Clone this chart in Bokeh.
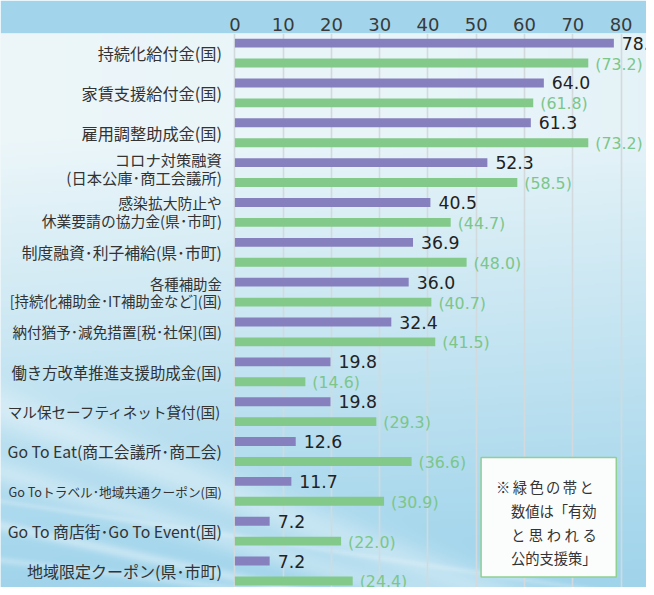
import numpy as np
from bokeh.plotting import figure
from bokeh.models import Range1d, FixedTicker, ColumnDataSource
from bokeh.core.properties import value, field
from bokeh.embed import file_html
from bokeh.resources import INLINE

# ---------------- data ----------------
categories = [
    "持続化給付金(国)",
    "家賃支援給付金(国)",
    "雇用調整助成金(国)",
    "コロナ対策融資\n(日本公庫･商工会議所)",
    "感染拡大防止や\n休業要請の協力金(県･市町)",
    "制度融資･利子補給(県･市町)",
    "各種補助金\n[持続化補助金･IT補助金など](国)",
    "納付猶予･減免措置[税･社保](国)",
    "働き方改革推進支援助成金(国)",
    "マル保セーフティネット貸付(国)",
    "Go To Eat(商工会議所･商工会)",
    "Go Toトラベル･地域共通クーポン(国)",
    "Go To 商店街･Go To Event(国)",
    "地域限定クーポン(県･市町)",
]
used_pct = [78.5, 64.0, 61.3, 52.3, 40.5, 36.9, 36.0, 32.4, 19.8, 19.8, 12.6, 11.7, 7.2, 7.2]
effective_pct = [73.2, 61.8, 73.2, 58.5, 44.7, 48.0, 40.7, 41.5, 14.6, 29.3, 36.6, 30.9, 22.0, 24.4]
x_ticks = [0, 10, 20, 30, 40, 50, 60, 70, 80]
note_lines = ["※\u2006緑\u2006色\u2006の\u2006帯\u2006と", "数値は「有効", "と\u2005思\u2005わ\u2005れ\u2005る", "公的支援策」"]

# ---------------- styles ----------------
label_sizes = ["16.2px", "16.2px", "16.2px", "15.3px", "14.8px", "15.8px", "14.4px",
               "14.6px", "15.4px", "14.6px", "15.8px", "12.7px", "15.8px", "16px"]
label_dy = [0, 0, 0, -5, -1, 0, 0, 0, 0, 0, 0, 0, 0, 0]
PURPLE = "#8680be"
GREEN = "#82c98a"
GREEN_TXT = "#7cc689"

W, H = 646, 587
TOP = 33
x0, x1 = -48.55, 85.26
y_top = -0.4914
y_bottom = 13.4136

rows = list(range(len(categories)))
y_used = [r - 0.25 for r in rows]
y_eff = [r + 0.25 for r in rows]

src = ColumnDataSource(dict(
    cat=categories, row=rows, fs=label_sizes, dy=label_dy,
    used=used_pct, eff=effective_pct,
    y_used=y_used, y_eff=y_eff,
    used_lbl=[f"{v:.1f}" for v in used_pct],
    eff_lbl=[f"({v:.1f})" for v in effective_pct],
))

p = figure(width=W, height=H, output_backend="svg", toolbar_location=None,
           x_range=Range1d(x0, x1), y_range=Range1d(y_bottom, y_top),
           x_axis_location="above", y_axis_location=None,
           min_border_left=0, min_border_right=0, min_border_bottom=0,
           min_border_top=TOP, outline_line_color=None)
p.border_fill_color = "#a2d5eb"
p.background_fill_color = "#e8f4f8"

# background gradient with soft diagonal streaks (decoration)
fh = H - TOP
gw, gh = 323, fh // 2
u = np.linspace(0, W, gw)[None, :]
v = np.linspace(0, fh, gh)[:, None]
X = u / 0.9878
Y = (TOP + v) / 0.9866
s = np.clip((Y - 30) / 460.0, 0, 1) ** 1.15 * 0.86 + np.clip(1 - X / 654.0, 0, 1) * 0.10 * np.clip(Y / 300.0, 0, 1)
s = np.clip(s, 0, 1)
dark = np.array([160, 212, 235], dtype=float)
light = np.array([240, 248, 250], dtype=float)
col = dark[None, None, :] * (1 - s[..., None]) + light[None, None, :] * s[..., None]
for c, k, w, a in [(95, 0.22, 6, 0.35), (150, 0.30, 14, 0.30), (215, 0.38, 22, 0.35),
                   (60, 0.12, 4, 0.25), (120, 0.15, 3, 0.2)]:
    d = Y - (c - k * X)
    inten = a * np.exp(-(d / w) ** 2)
    col = col * (1 - inten[..., None]) + 255 * inten[..., None]
rgba = np.empty((gh, gw), dtype=np.uint32)
view = rgba.view(dtype=np.uint8).reshape((gh, gw, 4))
view[..., 0] = col[..., 0].astype(np.uint8)
view[..., 1] = col[..., 1].astype(np.uint8)
view[..., 2] = col[..., 2].astype(np.uint8)
view[..., 3] = 255
p.image_rgba(image=[rgba[::-1]], x=x0, y=y_top, dw=x1 - x0, dh=y_bottom - y_top, level="image")

# axis & grid
ax = p.xaxis[0]
ax.ticker = FixedTicker(ticks=x_ticks)
ax.axis_line_color = None
ax.major_tick_line_color = None
ax.minor_tick_line_color = None
ax.major_tick_out = 0
ax.major_tick_in = 0
ax.major_label_standoff = 3
ax.major_label_text_font = "DejaVu Sans"
ax.major_label_text_font_size = "18px"
ax.major_label_text_color = "#3a3a3a"
p.xgrid.ticker = FixedTicker(ticks=x_ticks)
p.xgrid.grid_line_color = "#d3dadd"
p.xgrid.grid_line_width = 1.6
p.ygrid.visible = False

# bars
p.hbar(y="y_used", left=0, right="used", height=0.223, source=src,
       fill_color=PURPLE, line_color=None)
p.hbar(y="y_eff", left=0, right="eff", height=0.223, source=src,
       fill_color=GREEN, line_color=None)

# value labels
p.text(x="used", y="y_used", text="used_lbl", source=src, x_offset=8,
       text_baseline="middle", text_align="left", text_font=value("DejaVu Sans"),
       text_font_size="17.3px", text_color="#222222")
p.text(x="eff", y="y_eff", text="eff_lbl", source=src, x_offset=7, y_offset=1,
       text_baseline="middle", text_align="left", text_font=value("DejaVu Sans"),
       text_font_size="15.8px", text_color=GREEN_TXT)

# category labels
p.text(x=0, y="row", text="cat", source=src, x_offset=-13, y_offset=field("dy"),
       text_baseline="middle", text_align="right",
       text_font=value("Noto Sans CJK JP"), text_font_size=field("fs"),
       text_line_height=0.82, text_color="#333333")

# note box
bx0, bx1, by0, by1 = 51.0, 79.0, 10.15, 13.15
p.quad(left=bx0, right=bx1, top=by0, bottom=by1, fill_color="#fbfdfc",
       line_color="#90d093", line_width=1.5)
note_x = [bx0 + 3.1, bx0 + 6.17, bx0 + 6.17, bx0 + 6.17]
note_y = [by0 + 0.738, by0 + 1.331, by0 + 1.926, by0 + 2.520]
p.text(x=note_x, y=note_y, text=note_lines, text_baseline="middle",
       text_align="left", text_font=value("Noto Sans CJK JP"),
       text_font_size="14.3px", text_color="#333333")

open("out.html", "w").write(file_html(p, INLINE))
